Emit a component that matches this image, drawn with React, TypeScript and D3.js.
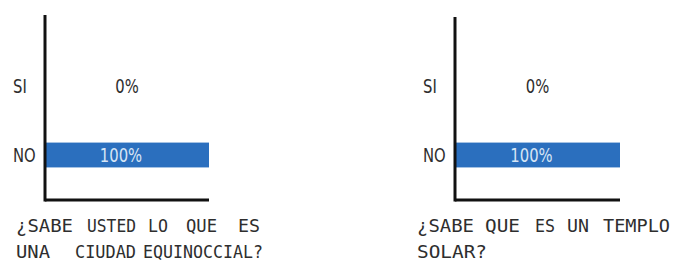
import * as d3 from "d3";

// survey answers
const categories = ["SI", "NO"];
const ciudadValues = [0, 100];
const temploValues = [0, 100];
const ciudadTitle = ["¿SABE USTED LO QUE ES", "UNA CIUDAD EQUINOCCIAL?"];
const temploTitle = ["¿SABE QUE ES UN TEMPLO", "SOLAR?"];

const FONT = "'DejaVu Sans', sans-serif";
const MONO = "'DejaVu Sans Mono', monospace";
const BLUE = "#2b6fbe";
const INK = "#2e2e2e";
const SQUEEZE = 0.78;

type PanelProps = {
  values: number[];
  title: string[];
  axisX: number;
  axisTop: number;
  plotW: number;
  // [x, width] of each word of the title, per line
  words: [number, number][][];
};

function Label({ x, y, anchor, fill, children }: any) {
  return (
    <text
      transform={`translate(${x},${y}) scale(${SQUEEZE},1)`}
      fontSize={19}
      textAnchor={anchor}
      fill={fill}
    >
      {children}
    </text>
  );
}

function Panel({ values, title, axisX, axisTop, plotW, words }: PanelProps) {
  const axisBottom = 200;
  const x = d3.scaleLinear().domain([0, 100]).range([axisX, axisX + plotW]);
  const y = d3.scaleBand<string>().domain(categories).range([51.5, 189.5]);
  const barH = y.bandwidth() * 0.36;
  const mid = (x.range()[0] + x.range()[1]) / 2;

  return (
    <g fontFamily={FONT}>
      {categories.map((c, i) => {
        const cy = y(c)! + y.bandwidth() / 2;
        return (
          <g key={c}>
            <rect
              x={x(0)}
              y={cy - barH / 2}
              width={x(values[i]) - x(0)}
              height={barH}
              fill={BLUE}
            />
            <Label x={axisX - 32} y={cy + 7} anchor="start" fill={INK}>
              {c}
            </Label>
            <Label
              x={values[i] > 0 ? mid - 6 : mid}
              y={cy + 7}
              anchor="middle"
              fill={values[i] > 0 ? "#d6e4f5" : INK}
            >
              {values[i] + "%"}
            </Label>
          </g>
        );
      })}
      {/* axes */}
      <line x1={axisX} x2={axisX} y1={axisTop} y2={axisBottom + 1.5} stroke="#111" strokeWidth={3} />
      <line x1={axisX} x2={x(100)} y1={axisBottom} y2={axisBottom} stroke="#111" strokeWidth={3} />
      {title.map((t, i) =>
        t.split(" ").map((w, j) => (
          <text
            key={i + "-" + j}
            x={words[i][j][0]}
            y={232 + i * 26}
            fontSize={18}
            fontFamily={MONO}
            fill={INK}
            textLength={words[i][j][1]}
            lengthAdjust="spacingAndGlyphs"
          >
            {w}
          </text>
        ))
      )}
    </g>
  );
}

export default function App() {
  return (
    <svg
      width={674}
      height={266}
      style={{ position: "absolute", left: 0, top: 0, background: "#fff" }}
    >
      <Panel
        values={ciudadValues}
        title={ciudadTitle}
        axisX={45}
        axisTop={15}
        plotW={164}
        words={[
          [[16, 57], [87, 49], [148, 20], [186, 31], [238, 22]],
          [[16, 34], [75, 61], [143, 120]],
        ]}
      />
      <Panel
        values={temploValues}
        title={temploTitle}
        axisX={455}
        axisTop={17}
        plotW={165}
        words={[
          [[417, 57], [485, 35], [535, 20], [567, 22], [603, 67]],
          [[417, 70]],
        ]}
      />
    </svg>
  );
}
